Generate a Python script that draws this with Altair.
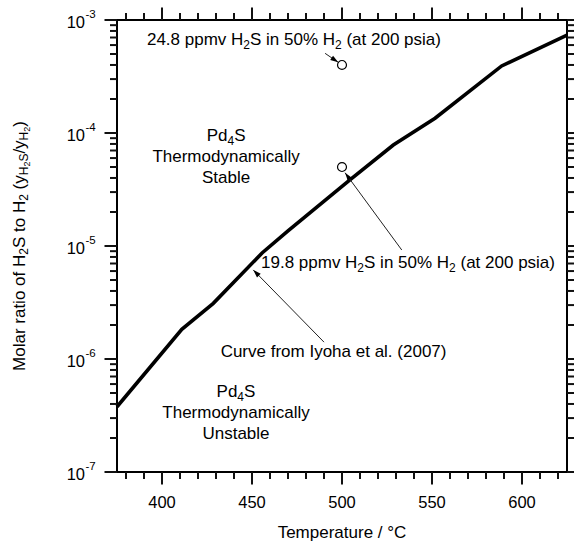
import math
import altair as alt
import pandas as pd

# ---------------- data ----------------
temp_c = [375, 411, 428.5, 455.6, 470, 504.4, 528.5, 551.7, 588.7, 625]
h2s_ratio = [3.78e-7, 1.83e-6, 3.11e-6, 8.67e-6, 1.36e-5, 3.84e-5, 7.83e-5, 1.35e-4, 3.92e-4, 7.36e-4]

sample_temp = [500, 500]
sample_ratio = [4.0e-4, 5.0e-5]

x_major = [400, 450, 500, 550, 600]
x_labels = ["400", "450", "500", "550", "600"]
x_minor = [380, 390, 410, 420, 430, 440, 460, 470, 480, 490,
           510, 520, 530, 540, 560, 570, 580, 590, 610, 620]
y_major = [1e-7, 1e-6, 1e-5, 1e-4, 1e-3]
y_exp_labels = ["-7", "-6", "-5", "-4", "-3"]
y_minor = [m * 10.0 ** e for e in range(-7, -3) for m in range(2, 10)]

# annotation anchors (data units: temperature, ratio)
top_label_pos = (473.3, 6.65e-4)
stable_pos_t = 435.6
stable_rows_r = [9.4e-5, 6.14e-5, 4.0e-5]
unstable_pos_t = 441.1
unstable_rows_r = [5.1e-7, 3.33e-7, 2.17e-7]
mid_label_pos = (455.0, 7.08e-6)
curve_label_pos = (495.3, 1.153e-6)
arrow_from_t = [490.6, 533.2, 490.0]
arrow_from_r = [5.07e-4, 9.22e-6, 1.41e-6]
arrow_to_t = [497.9, 501.7, 450.7]
arrow_to_r = [4.22e-4, 4.45e-5, 6.14e-6]

# ---------------- layout ----------------
W, H = 450, 452
FONT = "Liberation Sans"
T_MIN, T_MAX = 375, 625
R_MIN, R_MAX = 1e-7, 1e-3
MAJ, MIN_ = 12.5, 7
TICK_COLOR = "#111111"

xs = alt.Scale(domain=[T_MIN, T_MAX], nice=False, zero=False)
ys = alt.Scale(type="log", domain=[R_MIN, R_MAX], nice=False)

# Arial / Liberation Sans advance widths (per 1000 em)
AW = {
    "0": 556, "1": 556, "2": 556, "3": 556, "4": 556, "5": 556, "6": 556, "7": 556,
    "8": 556, "9": 556, ".": 278, " ": 278, "%": 889, "(": 333, ")": 333, "/": 278,
    "-": 333, "a": 556, "b": 556, "c": 500, "d": 556, "e": 556, "f": 278, "g": 556,
    "h": 556, "i": 222, "l": 222, "m": 833, "n": 556, "o": 556, "p": 556, "r": 333,
    "s": 500, "t": 278, "u": 556, "v": 500, "y": 500, "C": 722, "H": 722, "I": 278,
    "M": 833, "P": 667, "S": 667, "T": 611, "U": 722,
}


def text_w(s, fs):
    return sum(AW.get(c, 556) for c in s) / 1000.0 * fs


def X(f="T:Q"):
    return alt.X(f, scale=xs, axis=None)


def Y(f="R:Q"):
    return alt.Y(f, scale=ys, axis=None)


curve_df = pd.DataFrame({"T": temp_c, "R": h2s_ratio})

layers = []

# ---- frame (plot box) from the scale domain ----
frame_df = pd.DataFrame({
    "T": [T_MIN, T_MAX, T_MIN, T_MIN],
    "T2": [T_MIN, T_MAX, T_MAX, T_MAX],
    "R": [R_MIN, R_MIN, R_MIN, R_MAX],
    "R2": [R_MAX, R_MAX, R_MIN, R_MAX],
})
layers.append(alt.Chart(frame_df).mark_rule(color="black", strokeWidth=2).encode(
    x=X(), y=Y(), x2="T2:Q", y2="R2:Q"))

# ---- curve ----
layers.append(alt.Chart(curve_df).mark_line(color="black", strokeWidth=3.6).encode(
    x=X(), y=Y()))

# ---- x tick labels and title ----
layers.append(alt.Chart(pd.DataFrame({"T": x_major, "lab": x_labels})).mark_text(
    align="center", baseline="middle", fontSize=16.5, font=FONT, color="black").encode(
    x=X(), y=alt.value(H + 30.5), text="lab:N"))
layers.append(alt.Chart(pd.DataFrame({"k": [0]})).mark_text(
    text="Temperature / °C", align="center", baseline="alphabetic", fontSize=17,
    font=FONT, color="black").encode(x=alt.value(W / 2.0), y=alt.value(H + 66)))

# ---- y tick labels: 10 with superscript exponent ----
ylab_df = pd.DataFrame({"R": y_major, "e": y_exp_labels})
layers.append(alt.Chart(ylab_df).mark_text(
    text="10", align="right", baseline="middle", fontSize=16.5, font=FONT,
    color="black", dy=3).encode(x=alt.value(-32), y=Y()))
layers.append(alt.Chart(ylab_df).mark_text(
    align="left", baseline="middle", fontSize=11.5, font=FONT, color="black",
    dy=-5).encode(x=alt.value(-31.5), y=Y(), text="e:N"))

# ---- y axis title, composed of pieces (rotated) ----
title_segs = [("Molar ratio of H", 17, 0), ("2", 12, 4), ("S to H", 17, 0), ("2", 12, 4),
              (" (y", 17, 0), ("H", 12, 4), ("2", 9, 7), ("S", 12, 4), ("/y", 17, 0),
              ("H", 12, 4), ("2", 9, 7), (")", 17, 0)]
title_total = sum(text_w(s, fs) for s, fs, _ in title_segs)
pos = 226 + title_total / 2.0
title_x = -97
for s, fs, sh in title_segs:
    lead = len(s) - len(s.lstrip(" "))
    start = pos - lead * AW[" "] / 1000.0 * fs
    layers.append(alt.Chart(pd.DataFrame({"k": [0]})).mark_text(
        text=s.strip(" "), angle=270, align="left", baseline="middle",
        fontSize=fs, font=FONT, color="black").encode(
        x=alt.value(title_x + sh), y=alt.value(start)))
    pos -= text_w(s, fs)


def rich(t, r, segs, align="left"):
    widths = [text_w(s, fs) for s, fs, _ in segs]
    total = sum(widths)
    off = 0.0 if align == "left" else -total / 2.0
    out = []
    df = pd.DataFrame({"T": [t], "R": [r]})
    for (s, fs, dy), w in zip(segs, widths):
        lead = len(s) - len(s.lstrip(" "))
        out.append(alt.Chart(df).mark_text(
            text=s.strip(" "), align="left", baseline="middle", fontSize=fs,
            font=FONT, color="black", dx=off + lead * AW[" "] / 1000.0 * fs, dy=dy).encode(
            x=X(), y=Y()))
        off += w
    return out


ppmv_tail = [("S in 50% H", 17, 0), ("2", 12, 5), (" (at 200 psia)", 17, 0)]
layers += rich(top_label_pos[0], top_label_pos[1],
               [("24.8 ppmv H", 17, 0), ("2", 12, 5)] + ppmv_tail, align="center")
layers += rich(mid_label_pos[0], mid_label_pos[1],
               [("19.8 ppmv H", 17, 0), ("2", 12, 5)] + ppmv_tail, align="left")
layers += rich(curve_label_pos[0], curve_label_pos[1],
               [("Curve from Iyoha et al. (2007)", 17, 0)], align="center")

pd4s = [("Pd", 17, 0), ("4", 12, 5), ("S", 17, 0)]
for rr, segs in zip(stable_rows_r, [pd4s, [("Thermodynamically", 17, 0)], [("Stable", 17, 0)]]):
    layers += rich(stable_pos_t, rr, segs, align="center")
for rr, segs in zip(unstable_rows_r, [pd4s, [("Thermodynamically", 17, 0)], [("Unstable", 17, 0)]]):
    layers += rich(unstable_pos_t, rr, segs, align="center")

# ---- arrows ----
arrow_df = pd.DataFrame({"T": arrow_from_t, "R": arrow_from_r, "T2": arrow_to_t, "R2": arrow_to_r})
layers.append(alt.Chart(arrow_df).mark_rule(color="#222222", strokeWidth=1).encode(
    x=X(), y=Y(), x2="T2:Q", y2="R2:Q"))


def to_px(t, r):
    return ((t - T_MIN) / (T_MAX - T_MIN) * W,
            (math.log10(R_MAX) - math.log10(r)) / (math.log10(R_MAX) - math.log10(R_MIN)) * H)


ARROW_PATH = "M0,0L-0.32,1L0.32,1Z"
for t1, r1, t2, r2 in zip(arrow_from_t, arrow_from_r, arrow_to_t, arrow_to_r):
    x1, y1 = to_px(t1, r1)
    x2, y2 = to_px(t2, r2)
    ang = math.degrees(math.atan2(x2 - x1, -(y2 - y1))) % 360
    layers.append(alt.Chart(pd.DataFrame({"T": [t2], "R": [r2]})).mark_point(
        shape=ARROW_PATH, filled=True, color="black", size=256, angle=ang, opacity=1).encode(
        x=X(), y=Y()))

# ---- sample points (open circles) ----
layers.append(alt.Chart(pd.DataFrame({"T": sample_temp, "R": sample_ratio})).mark_point(
    shape="circle", filled=True, fill="white", stroke="black", strokeWidth=1.2,
    size=80, opacity=1).encode(x=X(), y=Y()))

# ---- outward ticks on all four sides (drawn last) ----
for vals, ln in [(x_major, MAJ), (x_minor, MIN_)]:
    df = pd.DataFrame({"T": vals})
    layers.append(alt.Chart(df).mark_rule(color=TICK_COLOR, strokeWidth=2).encode(
        x=X(), y=alt.value(H), y2=alt.value(H + ln)))
    layers.append(alt.Chart(df).mark_tick(color=TICK_COLOR, thickness=2, size=ln, opacity=1).encode(
        x=X(), y=alt.value(-ln / 2.0)))
for vals, ln in [(y_major, MAJ), (y_minor, MIN_)]:
    df = pd.DataFrame({"R": vals})
    layers.append(alt.Chart(df).mark_rule(color=TICK_COLOR, strokeWidth=2).encode(
        y=Y(), x=alt.value(0), x2=alt.value(-ln)))
    layers.append(alt.Chart(df).mark_rule(color=TICK_COLOR, strokeWidth=2).encode(
        y=Y(), x=alt.value(W), x2=alt.value(W + ln)))

chart = alt.layer(*layers).properties(
    width=W, height=H,
    autosize=alt.AutoSizeParams(type="none"),
    padding={"left": 117, "top": 20, "right": 7, "bottom": 69},
    background="white",
).configure_view(strokeWidth=0)

chart.save("out.html", embed_options={"renderer": "svg", "actions": False})
